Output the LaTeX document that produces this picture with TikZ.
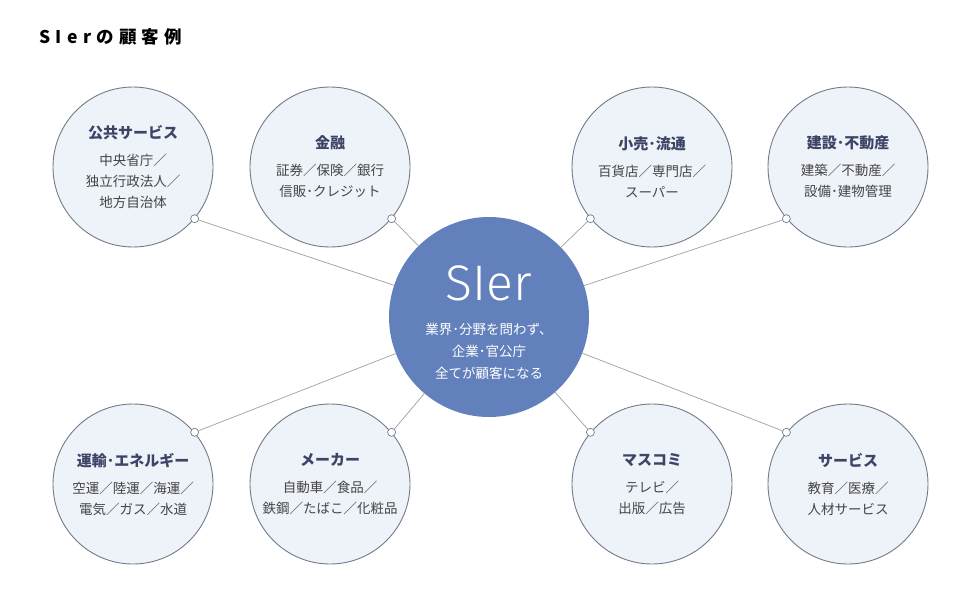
\documentclass[tikz,border=0pt]{standalone}
\usepackage{fontspec}
\setmainfont{Noto Sans CJK JP}
\newfontfamily\titlefont{Noto Sans CJK JP}[LetterSpace=30]
\newfontfamily\sierfont{Fira Sans Light}
\usepackage{tikz}
\usetikzlibrary{positioning}
\usepackage{xcolor}

\definecolor{hubblue}{HTML}{6281BC}
\definecolor{paleblue}{HTML}{EEF2F9}
\definecolor{ringgray}{HTML}{737B8A}
\definecolor{linkgray}{HTML}{A0A0A0}
\definecolor{headnavy}{HTML}{3D4466}
\definecolor{bodygray}{HTML}{454545}

\tikzset{
  field/.style={circle, draw=ringgray, fill=paleblue, line width=0.9pt,
    minimum size=160pt, inner sep=0pt, align=center, text=bodygray,
    font=\fontsize{13.5}{21}\selectfont},
  hub/.style={circle, fill=hubblue, minimum size=200pt, inner sep=0pt},
  joint/.style={circle, draw=ringgray, fill=white, line width=0.7pt,
    minimum size=8pt, inner sep=0pt},
  link/.style={draw=linkgray, line width=0.7pt},
}
\newcommand{\heading}[1]{{\bfseries\color{headnavy}\fontsize{15}{15}\selectfont #1}\\[6pt]}

\begin{document}
\begin{tikzpicture}[x=1pt,y=-1pt]
\useasboundingbox[fill=white] (0,0) rectangle (980,590);

% Titel
\node[anchor=west, font=\titlefont\bfseries\fontsize{17.5}{17.5}\selectfont] (title) at (36,37) {SIerの顧客例};

% Mitte
\node[hub] (sier) at (489,317) {};
\node[text=white, font=\sierfont\fontsize{50}{50}\selectfont] (sierword) at (489,283) {SIer};
\node[text=white, align=center, font=\fontsize{13.5}{22}\selectfont] (sierlines) at (489,351)
  {業界･分野を問わず、\\企業･官公庁\\全てが顧客になる};

% obere Reihe
\node[field] (kokyo) at (133,167) {\heading{公共サービス}中央省庁／\\独立行政法人／\\地方自治体};
\node[field] (kinyu) at (330,167) {\heading{金融}証券／保険／銀行\\信販･クレジット};
\node[field] (kouri) at (652,167) {\heading{小売･流通}百貨店／専門店／\\スーパー};
\node[field] (kensetsu) at (848,167) {\heading{建設･不動産}建築／不動産／\\設備･建物管理};

% untere Reihe
\node[field] (unyu) at (133,484) {\heading{運輸･エネルギー}空運／陸運／海運／\\電気／ガス／水道};
\node[field] (maker) at (330,484) {\heading{メーカー}自動車／食品／\\鉄鋼／たばこ／化粧品};
\node[field] (masukomi) at (652,484) {\heading{マスコミ}テレビ／\\出版／広告};
\node[field] (service) at (848,484) {\heading{サービス}教育／医療／\\人材サービス};

% Verbindungen
\foreach \f/\a in {kokyo/-40, kinyu/-40, kouri/220, kensetsu/220,
                   unyu/40, maker/40, masukomi/140, service/140}{
  \node[joint] (j-\f) at (\f.\a) {};
  \draw[link] (j-\f) -- (sier);
}

\end{tikzpicture}
\end{document}
